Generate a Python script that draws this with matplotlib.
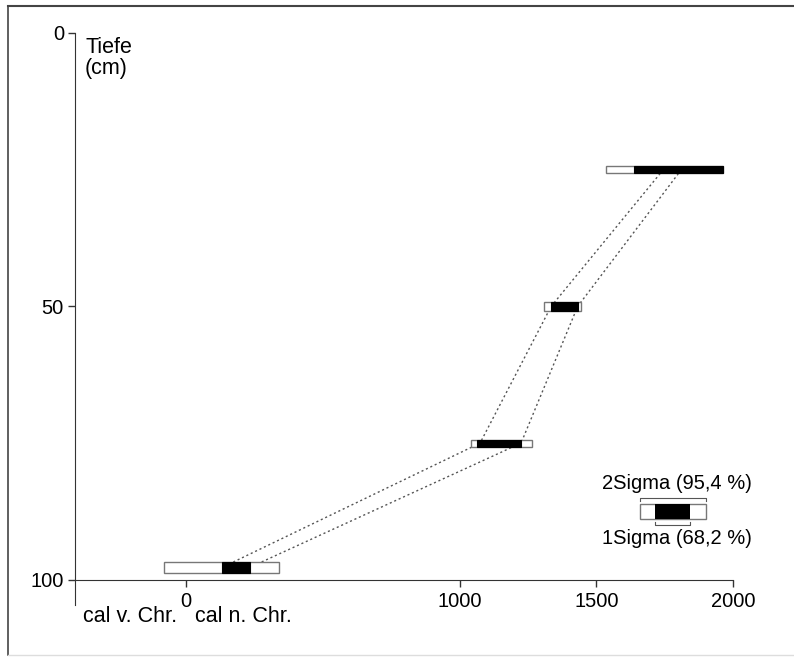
import matplotlib.pyplot as plt
from matplotlib.lines import Line2D

plt.rcParams['font.family'] = ['Liberation Sans', 'DejaVu Sans']

# Datierungen: Tiefe (cm) und kalibrierte Alter (cal n. Chr.)
tiefe = [25, 50, 75, 97.7]
sigma2_von = [1536, 1310, 1042, -79]
sigma2_bis = [1962, 1445, 1265, 340]
sigma1_von = [1637, 1334, 1064, 133]
sigma1_bis = [1962, 1432, 1225, 234]
balken_hoehe = [1.35, 1.5, 1.25, 2.1]

# Verbindungslinien (Alters-Tiefen-Modell)
linie_links = [1745, 1335, 1075, 133]
linie_rechts = [1811, 1432, 1225, 234]

# Legende
leg_tiefe = 87.5
leg_sigma2 = (1661, 1903)
leg_sigma1 = (1716, 1844)

W, H = 794, 657
fig = plt.figure(figsize=(W / 100, H / 100), dpi=100)
ax = fig.add_axes([75 / W, (H - 605) / H, 658 / W, 572 / H])

ax.plot(linie_links, tiefe, color='#555555', linestyle=(0, (1.5, 2.0)), linewidth=1.0, zorder=1)
ax.plot(linie_rechts, tiefe, color='#555555', linestyle=(0, (1.5, 2.0)), linewidth=1.0, zorder=1)

for t, a2, b2, a1, b1, h in zip(tiefe, sigma2_von, sigma2_bis, sigma1_von, sigma1_bis, balken_hoehe):
    ax.barh(t, b2 - a2, left=a2, height=h, color='white', edgecolor='#777777', linewidth=1.0, zorder=2)
    ax.barh(t, b1 - a1, left=a1, height=h, color='black', edgecolor='black', linewidth=0.8, zorder=3)

# Legende zeichnen
lh = 2.75
ax.barh(leg_tiefe, leg_sigma2[1] - leg_sigma2[0], left=leg_sigma2[0], height=lh,
        color='white', edgecolor='#777777', linewidth=1.0, zorder=2)
ax.barh(leg_tiefe, leg_sigma1[1] - leg_sigma1[0], left=leg_sigma1[0], height=lh,
        color='black', zorder=3)
yo = leg_tiefe - lh / 2 - 1.1
ax.plot([leg_sigma2[0], leg_sigma2[0], leg_sigma2[1], leg_sigma2[1]], [yo + 0.5, yo, yo, yo + 0.5],
        color='#555555', linewidth=0.8)
yu = leg_tiefe + lh / 2 + 1.1
ax.plot([leg_sigma1[0], leg_sigma1[0], leg_sigma1[1], leg_sigma1[1]], [yu - 0.5, yu, yu, yu - 0.5],
        color='#555555', linewidth=0.8)
ax.text(1795, yo - 0.9, '2Sigma (95,4 %)', ha='center', va='bottom', fontsize=14.5)
ax.text(1795, yu + 0.8, '1Sigma (68,2 %)', ha='center', va='top', fontsize=14.5)

ax.set_xlim(-406, 2000)
ax.set_ylim(104.6, 0)
ax.spines['top'].set_visible(False)
ax.spines['right'].set_visible(False)
ax.spines['bottom'].set_position(('data', 100))
ax.spines['bottom'].set_bounds(-406, 2000)
ax.spines['left'].set_color('#333333')
ax.spines['bottom'].set_color('#333333')
ax.patch.set_visible(False)

ax.set_xticks([0, 1000, 1500, 2000])
ax.set_yticks([0, 50, 100])
ax.tick_params(axis='both', direction='out', length=5, width=1, color='#333333', labelsize=14.5)
ax.tick_params(axis='x', pad=4)
ax.tick_params(axis='y', pad=3)

fig.text(85 / W, 1 - 37 / H, 'Tiefe\n(cm)', ha='left', va='top', fontsize=15.5, linespacing=1.0)
fig.text(83 / W, 1 - 617 / H, 'cal v. Chr.', ha='left', va='center', fontsize=15.5)
fig.text(195 / W, 1 - 617 / H, 'cal n. Chr.', ha='left', va='center', fontsize=15.5)

# Rahmen
fig.add_artist(Line2D([8 / W, 1], [1 - 6 / H, 1 - 6 / H], color='#444444', linewidth=1.5))
fig.add_artist(Line2D([8 / W, 8 / W], [1 - 6 / H, 1 - 655 / H], color='#444444', linewidth=1.2))
fig.add_artist(Line2D([8 / W, 1], [1 - 655 / H, 1 - 655 / H], color='#dddddd', linewidth=1.0))

fig.savefig('out.png', dpi=100)
